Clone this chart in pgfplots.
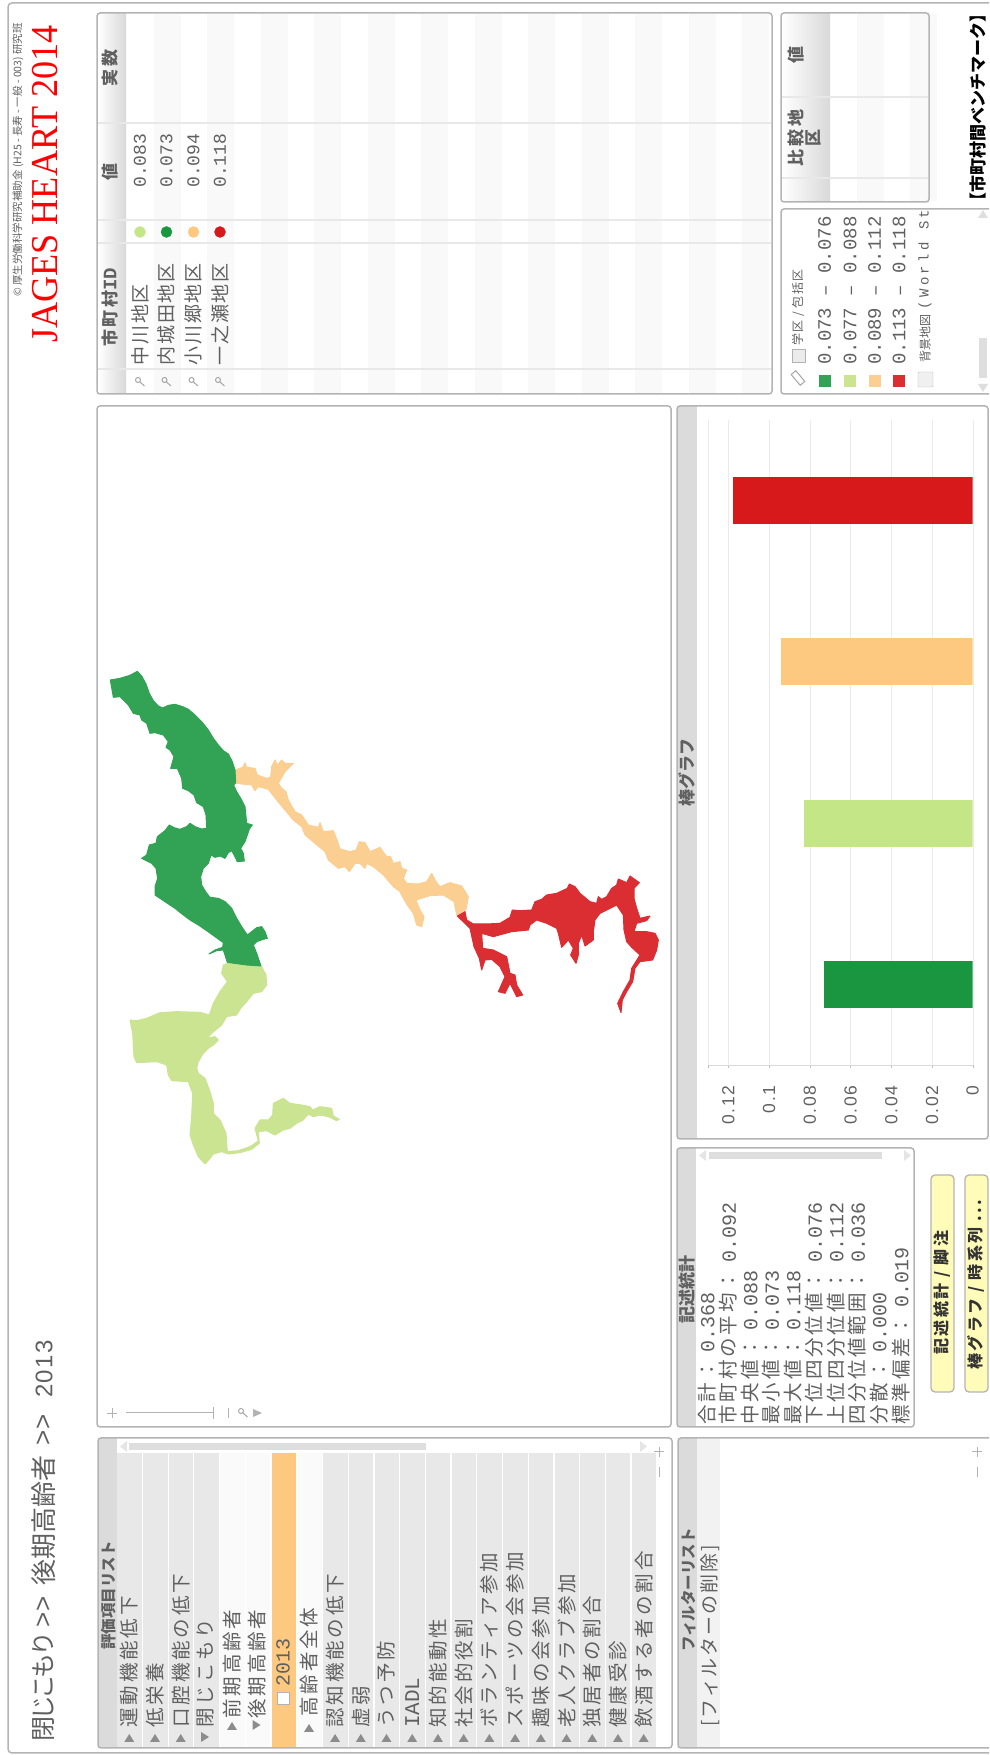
\documentclass[border=0pt]{standalone}
\usepackage{graphicx}
\usepackage{fontspec}
\usepackage{pgfplots}
\pgfplotsset{compat=1.18}
\setmainfont{Noto Sans CJK JP}
\newfontfamily\jpw[LetterSpace=15]{Noto Sans CJK JP}
\newfontfamily\jpm[LetterSpace=10]{Noto Sans CJK JP}
\newfontfamily\jpn{Noto Sans CJK JP}
\newfontfamily\num{Liberation Mono}
\newfontfamily\ssf{Liberation Sans}
\newfontfamily\rmf{Liberation Serif}
\definecolor{cdark}{HTML}{1A9641}
\definecolor{clight}{HTML}{C4E687}
\definecolor{corange}{HTML}{FDC980}
\definecolor{cred}{HTML}{D7191C}
\definecolor{mdark}{HTML}{32A254}
\definecolor{mlight}{HTML}{CAE492}
\definecolor{morange}{HTML}{FBCE92}
\definecolor{mred}{HTML}{DB2E33}
\definecolor{ink}{HTML}{606060}
\definecolor{edge}{HTML}{B4B4B4}
\newcommand{\fs}[1]{\fontsize{#1}{#1}\selectfont}
% text reads bottom to top: x, start y, font, text
\newcommand{\rt}[4]{\node[rotate=90,anchor=west,inner sep=0pt,text=ink,font=#3] at (#1,#2) {#4};}
\newcommand{\rc}[4]{\node[rotate=90,anchor=center,inner sep=0pt,text=ink,font=#3] at (#1,#2) {#4};}
\newcommand{\frm}[4]{\draw[edge,line width=1.5pt,rounded corners=3pt] (#1,#2) rectangle (#3,#4);}
\newcommand{\hdr}[4]{\fill[left color=white,right color=black!15] (#1,#2) rectangle (#3,#4);}
\newcommand{\lens}[2]{\draw[black!35,line width=1pt] (#1-2,#2-2) circle (2.5) (#1,#2) -- (#1+4.5,#2+4);}
% axis over one traced crop of the map: left, bottom (page pt), width, height
\pgfplotsset{mapcrop/.style n args={4}{at={(#1pt,#2pt)},anchor=south west,scale only axis,
  width=#3pt,height=#4pt,xmin=0,xmax=3*#3,ymin=0,ymax=3*#4,y dir=reverse,hide axis,clip=false}}
\begin{document}
\begin{tikzpicture}
\path[use as bounding box] (0,0) rectangle (989pt,1755pt);
\begin{scope}[shift={(0pt,1755pt)},x=1pt,y=-1pt]
% outer frame
\draw[edge,line width=1.5pt,rounded corners=4pt] (989,3) -- (8,3) -- (8,1753) -- (989,1753);
% page heading
\rt{18}{297}{\jpn\fs{10.5}}{© 厚生労働科学研究補助金 (H25 - 長寿 - 一般 - 003) 研究班}
\node[rotate=90,anchor=west,inner sep=0pt,text=red,font=\rmf\fs{38}] at (45,343) {\scalebox{0.952}[1]{JAGES HEART 2014}};
\rt{44}{1742}{\jpn\fs{25}\addfontfeature{LetterSpace=-15}}{閉じこもり}
\rc{44}{1612}{\ssf\fs{26}}{>>}
\rt{44}{1586}{\jpn\fs{26}}{後期高齢者}
\rc{44}{1430}{\ssf\fs{26}}{>>}
\rt{44}{1398}{\ssf\fs{24}\addfontfeature{LetterSpace=6}}{2013}
\node[rotate=90,anchor=west,inner sep=0pt,text=black,font=\jpn\bfseries\fs{17}] at (978,210) {【市町村間ベンチマーク】};
% value table
\fill[white] (97,13) rectangle (772,394);
\foreach \k in {1,3,...,23}{\fill[black!2.5] (127+26.75*\k,14) rectangle (127+26.75*\k+26.75,393);}
\hdr{98}{14}{126}{393}
\foreach \y in {123,220,243,369}{\draw[black!9,line width=1.2pt] (98,\y) -- (771,\y);}
\frm{97}{13}{772}{394}
\rt{110}{347}{\jpw\bfseries\fs{17}}{市町村{\num\fs{19}ID}}
\rc{110}{172}{\jpn\bfseries\fs{17}}{値}
\rc{110}{68}{\jpw\bfseries\fs{17}}{実数}
\rt{140}{366}{\jpm\fs{19}}{中川地区}
\rt{166.5}{366}{\jpm\fs{19}}{内城田地区}
\rt{193.5}{366}{\jpm\fs{19}}{小川郷地区}
\rt{220}{366}{\jpm\fs{19}}{一之瀬地区}
\rt{140}{188}{\num\fs{18}}{0.083}
\rt{166.5}{188}{\num\fs{18}}{0.073}
\rt{193.5}{188}{\num\fs{18}}{0.094}
\rt{220}{188}{\num\fs{18}}{0.118}
\foreach \x in {140,166.5,193.5,220}{\lens{\x}{382}}
% comparison table
\fill[white] (781,13) rectangle (929,202);
\foreach \k in {1,3}{\fill[black!2.5] (830+26.75*\k,14) rectangle (830+26.75*\k+26.75,201);}
\hdr{782}{14}{830}{201}
\foreach \y in {97,178}{\draw[black!9,line width=1.2pt] (782,\y) -- (928,\y);}
\frm{781}{13}{929}{202}
\rc{796}{55}{\jpn\bfseries\fs{17}}{値}
\rc{796}{138}{\jpw\bfseries\fs{17}}{比較地}
\rc{813}{138}{\jpn\bfseries\fs{17}}{区}
% legend panel
\fill[white] (781,209) rectangle (989,394);
\draw[edge,line width=1.5pt,rounded corners=3pt] (989,209) -- (781,209) -- (781,394) -- (989,394);
\draw[black!35,line width=1pt,rotate around={40:(798,378)}] (795,371) rectangle (801,385);
\draw[black!30,fill=black!8] (792,349) rectangle (805,362);
\rt{798}{346}{\jpm\fs{12}}{学区 / 包括区}
\foreach \x/\t in {824.6/0.073 – 0.076,850/0.077 – 0.088,874.5/0.089 – 0.112,899/0.113 – 0.118}{\rt{\x}{365}{\num\fs{19}}{\t}}
\draw[black!25,fill=black!6,rounded corners=1pt] (918,372) rectangle (933,387);
\rt{925}{363}{\jpn\fs{12}}{背景地図}
\rt{925}{310}{\num\fs{14}\addfontfeature{LetterSpace=25}}{(World St}
\fill[black!13] (979,338) rectangle (987,378);
\fill[black!13] (983,210) -- (978,218) -- (988,218) -- cycle;
\fill[black!13] (983,392) -- (978,384) -- (988,384) -- cycle;
% map panel
\frm{97}{406}{671}{1427}
\draw[black!30] (112,1408) -- (112,1418) (107,1413) -- (117,1413);
\draw[black!30,line width=1pt] (126,1413) -- (213,1413) (213,1407) -- (213,1419);
\draw[black!30,line width=1pt] (228,1408) -- (228,1418);
\lens{243}{1413}
\fill[black!30] (262,1413) -- (253,1409) -- (253,1417) -- cycle;
% bar chart panel
\fill[black!14] (677,406) rectangle (697,1139);
\frm{677}{406}{988}{1139}
\rc{687}{773}{\jpn\bfseries\fs{17}}{棒グラフ}
% statistics panel
\fill[black!14] (677,1148) rectangle (696,1427);
\frm{677}{1148}{914}{1427}
\rc{687}{1290}{\jpn\bfseries\fs{17}}{記述統計}
\fill[black!13] (709,1152) rectangle (882,1159);
\fill[black!10] (699,1155.5) -- (706,1150) -- (706,1161) -- cycle;
\fill[black!10] (911,1155.5) -- (904,1150) -- (904,1161) -- cycle;
\foreach \x/\a/\b in {707/合計/0.368,728.5/市町村の平均/0.092,750/中央値/0.088,771.5/最小値/0.073,793/最大値/0.118,814.5/下位四分位値/0.076,836/上位四分位値/0.112,857.5/四分位値範囲/0.036,879/分散/0.000,901/標準偏差/0.019}{
  \rt{\x}{1425}{\jpw\fs{19.5}}{\a：\hspace{8pt}{\num\fs{20}\b}}}
% buttons
\draw[edge,fill=yellow!28,line width=1.3pt,rounded corners=4pt] (931,1175) rectangle (954,1392);
\draw[edge,fill=yellow!28,line width=1.3pt,rounded corners=4pt] (965,1175) rectangle (988,1392);
\node[rotate=90,anchor=west,inner sep=0pt,text=black!80,font=\jpw\bfseries\fs{16}] at (942,1355) {記述統計 / 脚注};
\node[rotate=90,anchor=west,inner sep=0pt,text=black!80,font=\jpw\bfseries\fs{16}] at (976,1370) {棒グラフ / 時系列 ...};
% item list
\fill[black!14] (98,1438) rectangle (117,1748);
\fill[black!13] (129,1443) rectangle (426,1450);
\fill[black!10] (120,1446.5) -- (127,1441) -- (127,1452) -- cycle;
\fill[black!10] (647,1446.5) -- (640,1441) -- (640,1452) -- cycle;
\foreach \i/\c in {0/black!9,1/black!9,2/black!9,3/black!9,4/black!2,5/black!2,6/corange,7/black!2,8/black!9,9/black!9,10/black!9,11/black!9,12/black!9,13/black!9,14/black!9,15/black!9,16/black!9,17/black!9,18/black!9,19/black!9,20/black!9}{
  \fill[\c] (117.3+25.72*\i,1453) rectangle (117.3+25.72*\i+24.5,1748);}
\frm{98}{1438}{672}{1748}
\rt{108.5}{1650}{\jpn\bfseries\fs{15.5}}{評価項目リスト}
\foreach \i/\t in {0/運動機能低下,1/低栄養,2/口腔機能の低下,8/認知機能の低下,9/虚弱,10/うつ予防,12/知的能動性,13/社会的役割,14/ボランティア参加,15/スポーツの会参加,16/趣味の会参加,17/老人クラブ参加,18/独居者の割合,19/健康受診,20/飲酒する者の割合}{
  \rt{129.3+25.72*\i}{1728}{\jpw\fs{19.5}}{\t}
  \fill[black!45] (124.3+25.72*\i,1742) -- (134.3+25.72*\i,1742) -- (129.3+25.72*\i,1734) -- cycle;}
\rt{412.2}{1728}{\num\fs{21}}{IADL}
\fill[black!45] (407.2,1742) -- (417.2,1742) -- (412.2,1734) -- cycle;
\fill[black!45] (201,1742) -- (201,1732) -- (209,1737) -- cycle;
\rt{206}{1728}{\jpw\fs{19.5}}{閉じこもり}
\rt{232}{1719}{\jpw\fs{19.5}}{前期高齢者}
\fill[black!45] (227,1730) -- (237,1730) -- (232,1722) -- cycle;
\rt{257.5}{1719}{\jpw\fs{19.5}}{後期高齢者}
\fill[black!45] (252.5,1730) -- (252.5,1720) -- (260.5,1725) -- cycle;
\draw[black!30,fill=white] (277,1692) rectangle (289,1704);
\rt{283}{1687}{\num\fs{20}}{2013}
\rt{309}{1717}{\jpw\fs{19.5}}{高齢者全体}
\fill[black!45] (304,1732) -- (314,1732) -- (309,1724) -- cycle;
\draw[black!30,line width=1pt] (659,1447) -- (659,1457) (654,1452) -- (664,1452) (659,1467) -- (659,1477);
% filter list
\fill[black!14] (678,1438) rectangle (697,1748);
\fill[black!5] (697,1439) rectangle (720,1747);
\draw[edge,line width=1.5pt,rounded corners=3pt] (989,1438) -- (678,1438) -- (678,1748) -- (989,1748);
\rt{689}{1652}{\jpn\bfseries\fs{15.5}}{フィルターリスト}
\rt{710}{1727}{\jpm\fs{19}}{[フィルターの削除]}
\draw[black!30,line width=1pt] (977,1447) -- (977,1457) (972,1452) -- (982,1452) (977,1467) -- (977,1477);
\end{scope}

% colour dots and legend swatches
\begin{axis}[at={(0pt,0pt)},anchor=south west,scale only axis,width=989pt,height=1755pt,
  xmin=0,xmax=989,ymin=0,ymax=1755,y dir=reverse,hide axis,clip=false]
\addplot[only marks,mark=*,mark size=5.5pt,mark options={draw=clight,fill=clight}] coordinates {(140,232)};
\addplot[only marks,mark=*,mark size=5.5pt,mark options={draw=cdark,fill=cdark}] coordinates {(166.5,232)};
\addplot[only marks,mark=*,mark size=5.5pt,mark options={draw=corange,fill=corange}] coordinates {(193.5,232)};
\addplot[only marks,mark=*,mark size=5.5pt,mark options={draw=cred,fill=cred}] coordinates {(220,232)};
\addplot[only marks,mark=square*,mark size=5.5pt,mark options={draw=mdark,fill=mdark}] coordinates {(824.6,381)};
\addplot[only marks,mark=square*,mark size=5.5pt,mark options={draw=mlight,fill=mlight}] coordinates {(850,381)};
\addplot[only marks,mark=square*,mark size=5.5pt,mark options={draw=morange,fill=morange}] coordinates {(874.5,381)};
\addplot[only marks,mark=square*,mark size=5.5pt,mark options={draw=mred,fill=mred}] coordinates {(899,381)};
\end{axis}

% map: each region traced on a 3x grid of its own crop
\begin{axis}[mapcrop={230}{805}{240}{200}]
\addplot[fill=morange,draw=morange,line width=1pt,line join=round] coordinates {
(17,60)(38,52)(45,38)(50,52)(75,55)(82,75)(110,85)(122,82)(125,50)(135,30)(142,45)(155,30)(165,40)(190,40)(165,65)(145,100)(155,115)(168,125)(175,150)(195,185)(215,195)(235,225)(265,232)(270,218)(280,245)(310,242)(322,272)(330,297)(360,305)(378,300)(388,275)(405,278)(420,305)(450,292)(470,320)(482,320)(490,340)(510,335)(515,355)(530,360)(520,385)(530,400)(565,402)(590,395)(605,370)(618,395)(630,410)(660,398)(695,408)(715,440)(708,478)(680,495)(672,455)(640,435)(600,437)(558,450)(570,480)(582,500)(575,530)(560,525)(550,490)(535,470)(520,445)(510,425)(490,410)(460,375)(430,350)(410,340)(405,355)(390,340)(375,340)(358,365)(345,350)(325,355)(295,330)(285,305)(255,280)(225,255)(215,230)(190,210)(165,180)(140,150)(115,118)(85,110)(75,122)(65,105)(17,100)} -- cycle;
\end{axis}
\begin{axis}[mapcrop={120}{585}{240}{210}]
\addplot[fill=mlight,draw=mlight,line width=1pt,line join=round] coordinates {
(310,15)(335,5)(425,20)(438,45)(440,75)(425,95)(400,100)(380,125)(362,145)(350,165)(320,170)(305,195)(275,220)(262,235)(285,230)(295,240)(280,255)(265,265)(250,280)(235,305)(230,325)(235,340)(255,355)(270,395)(280,430)(280,460)(300,480)(318,520)(322,575)(355,572)(390,560)(415,543)(405,505)(420,480)(445,480)(458,465)(460,430)(490,415)(510,430)(545,435)(570,440)(578,450)(600,440)(635,445)(640,468)(658,478)(650,482)(625,470)(600,465)(580,470)(565,462)(550,480)(530,490)(510,505)(490,510)(465,525)(440,512)(415,515)(418,550)(395,568)(360,578)(325,582)(305,575)(280,582)(268,598)(255,612)(235,590)(220,555)(210,525)(215,470)(218,400)(205,365)(155,362)(145,345)(140,315)(110,305)(50,308)(42,290)(38,220)(30,180)(50,182)(80,175)(120,158)(170,155)(240,157)(268,165)(280,130)(300,95)(322,65)(305,40)(310,15)} -- cycle;
\end{axis}
\begin{axis}[mapcrop={100}{775}{180}{320}]
\addplot[fill=mdark,draw=mdark,line width=1pt,line join=round] coordinates {
(31,60)(60,55)(90,46)(112,34)(125,48)(138,72)(148,100)(160,122)(175,138)(188,144)(205,136)(225,133)(248,140)(265,148)(285,165)(305,185)(325,210)(340,235)(355,255)(370,272)(385,282)(397,305)(405,330)(407,368)(401,376)(410,395)(425,420)(435,440)(440,490)(457,495)(448,507)(442,525)(435,545)(422,565)(430,580)(433,603)(412,605)(405,590)(395,572)(385,578)(375,595)(360,588)(345,592)(333,585)(325,610)(310,625)(302,650)(305,675)(318,697)(330,712)(355,715)(375,725)(395,745)(410,775)(425,800)(442,825)(455,815)(470,803)(485,800)(495,815)(502,835)(490,838)(470,845)(460,855)(470,880)(483,918)(440,915)(382,907)(370,870)(350,872)(327,882)(345,870)(368,862)(370,848)(345,830)(320,812)(295,795)(270,780)(250,765)(225,745)(195,725)(165,705)(165,680)(173,655)(168,625)(155,610)(125,595)(140,585)(148,555)(168,550)(172,530)(195,512)(208,495)(222,503)(240,508)(260,500)(270,490)(285,500)(305,507)(320,505)(318,465)(310,440)(290,428)(282,405)(265,392)(248,385)(245,355)(232,325)(212,325)(222,290)(210,270)(198,262)(205,245)(190,225)(165,218)(150,220)(140,190)(125,180)(120,165)(100,160)(85,135)(60,110)(40,112)(31,60)} -- cycle;
\end{axis}
\begin{axis}[mapcrop={450}{735}{220}{160}]
\addplot[fill=mred,draw=mred,line width=1pt,line join=round] coordinates {
(22,168)(45,155)(50,180)(70,192)(110,192)(150,190)(180,172)(187,150)(210,152)(245,150)(255,125)(275,118)(290,105)(320,100)(352,85)(358,72)(375,80)(390,100)(420,125)(440,130)(445,110)(455,118)(470,110)(485,85)(500,75)(505,57)(530,68)(540,48)(568,68)(552,85)(552,115)(560,145)(570,175)(600,168)(590,182)(560,190)(552,215)(590,215)(615,220)(625,240)(620,270)(608,300)(570,305)(555,325)(548,365)(530,395)(517,420)(513,458)(503,430)(520,395)(540,360)(545,325)(570,285)(545,262)(530,245)(522,210)(520,165)(500,135)(480,145)(450,160)(435,180)(430,215)(430,240)(405,258)(395,225)(385,250)(385,285)(378,310)(362,285)(370,265)(355,240)(335,262)(325,220)(320,205)(290,190)(260,180)(240,195)(235,210)(185,215)(130,230)(95,220)(98,265)(130,270)(170,290)(180,340)(195,345)(200,375)(218,405)(200,410)(180,370)(165,400)(145,395)(165,350)(150,320)(125,298)(105,300)(95,330)(88,295)(72,260)(60,205)(22,168)} -- cycle;
\end{axis}

% bar chart
\begin{axis}[at={(707.7pt,690pt)},anchor=south west,scale only axis,width=265pt,height=645pt,
  xbar,x dir=reverse,bar width=47pt,bar shift=0pt,
  xmin=0,xmax=0.1302,ymin=-0.5,ymax=3.5,
  hide y axis,axis x line*=bottom,
  axis line style={black!15},
  xtick={0,0.02,0.04,0.06,0.08,0.1,0.12},
  xticklabels={0,0.02,0.04,0.06,0.08,0.1,0.12},
  extra x ticks={0.1302},extra x tick labels={},
  xmajorgrids,major grid style={black!8},
  tick style={black!25},major tick length=3pt,tick align=outside,
  x tick label style={rotate=90,anchor=east,font=\ssf\fs{17.5}\addfontfeature{LetterSpace=10},text=ink,xshift=-14pt},
  extra x tick style={grid=major},
]
\addplot[fill=cred,draw=none] coordinates {(0.118,3)};
\addplot[fill=corange,draw=none] coordinates {(0.094,2)};
\addplot[fill=clight,draw=none] coordinates {(0.083,1)};
\addplot[fill=cdark,draw=none] coordinates {(0.073,0)};
\end{axis}
\end{tikzpicture}
\end{document}
